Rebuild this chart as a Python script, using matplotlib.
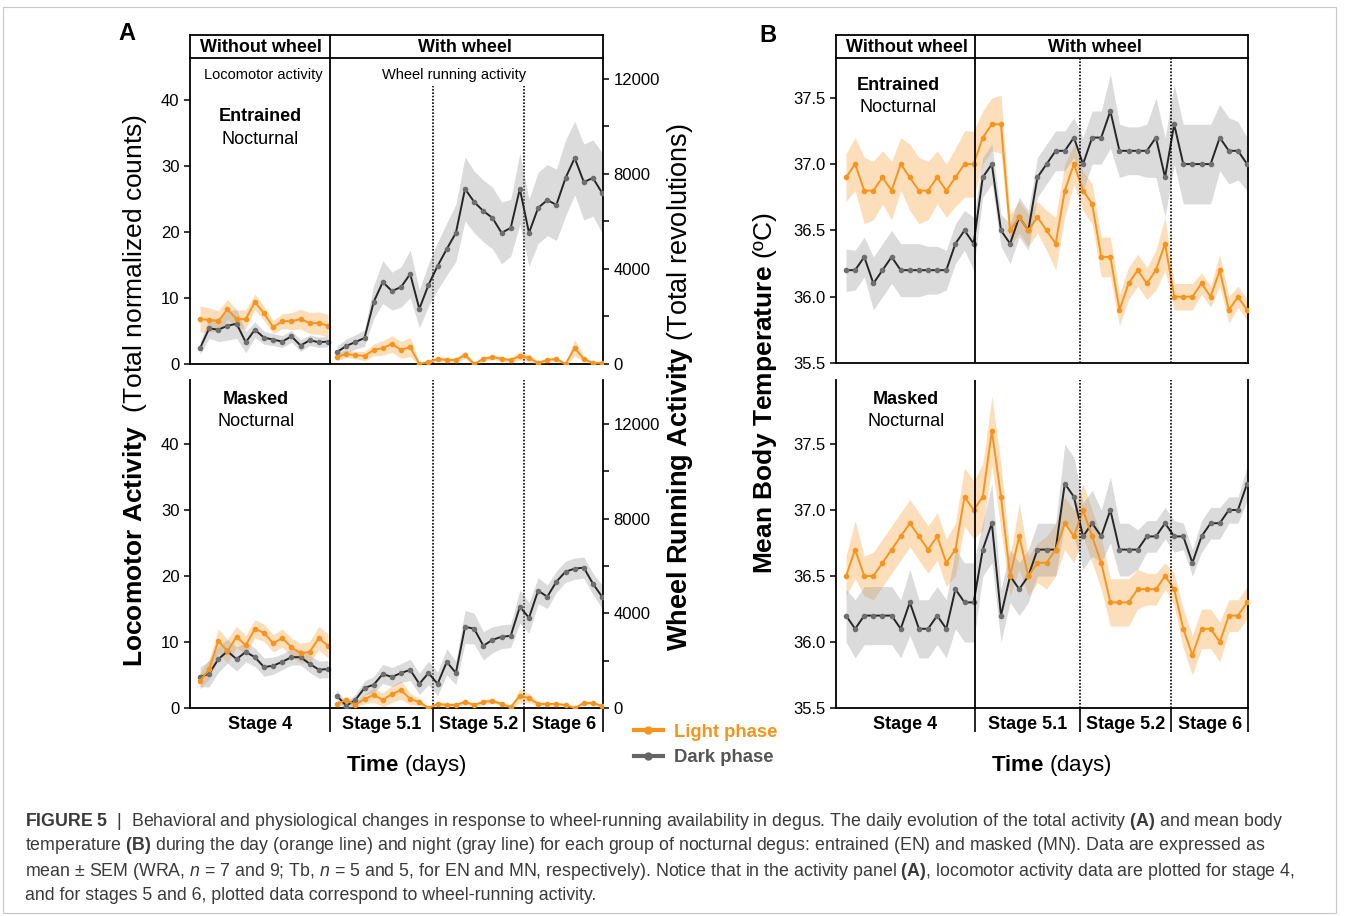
import numpy as np
import matplotlib
matplotlib.use("Agg")
import matplotlib.pyplot as plt
from matplotlib.lines import Line2D
from matplotlib.patches import Rectangle

plt.rcParams['font.family'] = ['Liberation Sans', 'DejaVu Sans']
plt.rcParams['mathtext.fontset'] = 'custom'
plt.rcParams['mathtext.rm'] = 'Liberation Sans'
plt.rcParams['mathtext.it'] = 'Liberation Sans:italic'
plt.rcParams['mathtext.bf'] = 'Liberation Sans:bold'

# ---------------- data ----------------
stage_labels = ["Stage 4", "Stage 5.1", "Stage 5.2", "Stage 6"]

# Panel A, Entrained: stage 4 locomotor (counts), stages 5-6 wheel revolutions
loc_light_EN = [6.8, 6.7, 6.5, 8.3, 6.8, 6.8, 9.4, 7.7, 5.6, 6.5, 6.5, 6.8, 6.2, 6.2, 5.8]
loc_light_EN_sem = [2.0, 1.8, 1.6, 1.5, 1.4, 1.4, 1.2, 1.1, 1.0, 1.1, 1.3, 1.5, 1.6, 1.7, 1.7]
loc_dark_EN = [2.4, 5.4, 5.2, 5.8, 6.1, 3.3, 5.2, 4.0, 3.7, 3.4, 4.2, 2.8, 3.6, 3.3, 3.4]
loc_dark_EN_sem = [1.0, 1.5, 1.8, 2.2, 2.2, 1.6, 1.2, 1.0, 0.9, 0.9, 0.9, 0.9, 0.8, 0.8, 0.8]
wheel_light_EN = [295, 421, 379, 337, 590, 674, 842, 590, 716, 0, 84, 210, 168, 168, 379,
                  0, 210, 295, 210, 168, 337, 253, 42, 168, 210, 0, 674, 210, 42, 42]
wheel_light_EN_sem = [150, 150, 150, 200, 250, 300, 350, 350, 400, 60, 80, 100, 100, 100, 150,
                      80, 100, 100, 100, 100, 180, 150, 80, 100, 100, 60, 350, 100, 60, 60]
wheel_dark_EN = [505, 758, 926, 1095, 2610, 3450, 3070, 3240, 3790, 2320, 3330, 4130, 4840, 5520, 7370,
                 6820, 6440, 6150, 5520, 5730, 7370, 5520, 6570, 6900, 6700, 7830, 8670, 7660, 7830, 7200]
wheel_dark_EN_sem = [250, 300, 300, 350, 700, 900, 800, 850, 1000, 800, 900, 1000, 1100, 1200, 1350,
                     1300, 1300, 1300, 1300, 1200, 1500, 1400, 1500, 1500, 1500, 1600, 1550, 1600, 1600, 1700]

# Panel A, Masked
loc_light_MN = [4.1, 5.9, 10.2, 8.6, 10.8, 9.5, 12.0, 11.4, 9.8, 10.6, 9.2, 8.3, 8.5, 10.6, 9.4]
loc_light_MN_sem = [1.2, 1.5, 1.8, 1.8, 1.6, 1.5, 1.4, 1.3, 1.3, 1.4, 1.4, 1.5, 1.6, 1.8, 1.8]
loc_dark_MN = [4.7, 5.2, 7.4, 8.6, 7.4, 8.5, 7.7, 6.2, 6.4, 7.0, 7.7, 7.7, 6.7, 5.8, 5.9]
loc_dark_MN_sem = [1.5, 2.0, 2.0, 1.8, 1.8, 1.5, 1.4, 1.4, 1.3, 1.2, 1.2, 1.2, 1.3, 1.3, 1.3]
wheel_light_MN = [170, 340, 130, 380, 550, 340, 590, 760, 380, 250, 0, 170, 130, 130, 250,
                  130, 250, 300, 170, 40, 510, 420, 170, 170, 170, 130, 0, 210, 210, 85]
wheel_light_MN_sem = [100, 150, 100, 200, 300, 300, 350, 400, 250, 150, 40, 80, 80, 80, 100,
                      80, 100, 100, 80, 60, 300, 200, 80, 80, 80, 60, 40, 80, 80, 60]
wheel_dark_MN = [510, 90, 340, 850, 980, 1440, 1310, 1480, 1610, 1020, 1480, 1020, 1950, 1480, 3430,
                 3350, 2630, 2880, 3010, 3050, 4280, 3810, 4960, 4700, 5340, 5760, 5890, 5930, 5250, 4700]
wheel_dark_MN_sem = [250, 150, 250, 300, 350, 400, 400, 400, 450, 450, 500, 500, 550, 500, 700,
                     650, 600, 550, 500, 500, 700, 650, 550, 500, 450, 450, 450, 450, 450, 500]

# Panel B, body temperature (ºC)
tb_light_EN = [36.9, 37.0, 36.8, 36.8, 36.9, 36.8, 37.0, 36.9, 36.8, 36.8, 36.9, 36.8, 36.9, 37.0, 37.0,
               37.2, 37.3, 37.3, 36.5, 36.6, 36.5, 36.6, 36.5, 36.4, 36.8, 37.0, 36.8, 36.7, 36.3, 36.3,
               35.9, 36.1, 36.2, 36.1, 36.2, 36.4, 36.0, 36.0, 36.0, 36.1, 36.0, 36.2, 35.9, 36.0, 35.9]
tb_light_EN_sem = [0.18, 0.2, 0.25, 0.22, 0.2, 0.22, 0.2, 0.25, 0.25, 0.22, 0.2, 0.2, 0.22, 0.25, 0.25,
                   0.2, 0.2, 0.22, 0.12, 0.12, 0.12, 0.12, 0.15, 0.2, 0.2, 0.15, 0.15, 0.15, 0.15, 0.15,
                   0.12, 0.12, 0.12, 0.12, 0.15, 0.2, 0.1, 0.1, 0.1, 0.08, 0.08, 0.12, 0.1, 0.08, 0.08]
tb_dark_EN = [36.2, 36.2, 36.3, 36.1, 36.2, 36.3, 36.2, 36.2, 36.2, 36.2, 36.2, 36.2, 36.4, 36.5, 36.4,
              36.9, 37.0, 36.5, 36.4, 36.6, 36.5, 36.9, 37.0, 37.1, 37.1, 37.2, 37.0, 37.2, 37.2, 37.4,
              37.1, 37.1, 37.1, 37.1, 37.2, 36.9, 37.3, 37.0, 37.0, 37.0, 37.0, 37.2, 37.1, 37.1, 37.0]
tb_dark_EN_sem = [0.16, 0.15, 0.15, 0.2, 0.2, 0.2, 0.2, 0.2, 0.2, 0.18, 0.18, 0.15, 0.15, 0.15, 0.2,
                  0.15, 0.15, 0.12, 0.15, 0.15, 0.15, 0.15, 0.15, 0.15, 0.15, 0.15, 0.2, 0.2, 0.2, 0.28,
                  0.2, 0.18, 0.18, 0.2, 0.3, 0.3, 0.3, 0.3, 0.3, 0.3, 0.3, 0.25, 0.25, 0.22, 0.2]
tb_light_MN = [36.5, 36.7, 36.5, 36.5, 36.6, 36.7, 36.8, 36.9, 36.8, 36.7, 36.8, 36.6, 36.7, 37.1, 37.0,
               37.1, 37.6, 37.1, 36.5, 36.8, 36.5, 36.6, 36.6, 36.7, 36.9, 36.8, 37.0, 36.8, 36.6, 36.3,
               36.3, 36.3, 36.4, 36.4, 36.4, 36.5, 36.4, 36.1, 35.9, 36.1, 36.1, 36.0, 36.2, 36.2, 36.3]
tb_light_MN_sem = [0.15, 0.22, 0.15, 0.18, 0.18, 0.18, 0.18, 0.18, 0.18, 0.18, 0.18, 0.18, 0.2, 0.22, 0.22,
                   0.25, 0.26, 0.25, 0.15, 0.25, 0.15, 0.15, 0.2, 0.2, 0.2, 0.2, 0.2, 0.2, 0.2, 0.18,
                   0.18, 0.18, 0.15, 0.12, 0.12, 0.1, 0.12, 0.15, 0.15, 0.15, 0.15, 0.15, 0.12, 0.12, 0.12]
tb_dark_MN = [36.2, 36.1, 36.2, 36.2, 36.2, 36.2, 36.1, 36.3, 36.1, 36.1, 36.2, 36.1, 36.4, 36.3, 36.3,
              36.7, 36.9, 36.2, 36.5, 36.4, 36.5, 36.7, 36.7, 36.7, 37.2, 37.1, 36.8, 36.9, 36.8, 37.0,
              36.7, 36.7, 36.7, 36.8, 36.8, 36.9, 36.8, 36.8, 36.6, 36.8, 36.9, 36.9, 37.0, 37.0, 37.2]
tb_dark_MN_sem = [0.2, 0.22, 0.22, 0.22, 0.22, 0.22, 0.22, 0.25, 0.22, 0.22, 0.22, 0.22, 0.3, 0.3, 0.3,
                  0.2, 0.3, 0.2, 0.2, 0.2, 0.2, 0.2, 0.2, 0.2, 0.3, 0.3, 0.25, 0.25, 0.2, 0.25,
                  0.2, 0.2, 0.15, 0.12, 0.12, 0.12, 0.12, 0.1, 0.1, 0.12, 0.12, 0.12, 0.1, 0.1, 0.13]

# ---------------- style ----------------
ORANGE = '#F7941D'
DARK = '#262626'
DARKM = '#6e6e6e'
W, H = 1354, 916
fig = plt.figure(figsize=(W / 100, H / 100), dpi=100)

days = np.arange(45)
d4 = days[:15]
dw = days[15:]
XLIM = (-1.1, 44.1)


def pax(x0, y0, x1, y1):
    return fig.add_axes([x0 / W, 1 - y1 / H, (x1 - x0) / W, (y1 - y0) / H])


def ftext(x, y, s, **kw):
    return fig.text(x / W, 1 - y / H, s, **kw)


def draw_series(ax, x, light, lsem, dark, dsem):
    light = np.array(light); lsem = np.array(lsem)
    dark = np.array(dark); dsem = np.array(dsem)
    ax.fill_between(x, light - lsem, light + lsem, color=ORANGE, alpha=0.3, lw=0)
    ax.fill_between(x, dark - dsem, dark + dsem, color='#9a9a9a', alpha=0.35, lw=0)
    ax.plot(x, dark, color=DARK, lw=1.4, marker='o', ms=3.0, mfc=DARKM, mec=DARKM, zorder=4)
    ax.plot(x, light, color=ORANGE, lw=1.4, marker='o', ms=3.0, mfc=ORANGE, mec=ORANGE, zorder=5)


def style_spines(ax, lw=1.3):
    for s in ax.spines.values():
        s.set_linewidth(lw)
    ax.spines['top'].set_visible(False)
    ax.tick_params(axis='both', labelsize=12, width=1.1, length=4, direction='out')


def header(x0, x1, xdiv):
    hx = pax(x0, 35, x1, 58)
    hx.set_xlim(*XLIM)
    hx.set_ylim(0, 1)
    hx.set_xticks([]); hx.set_yticks([])
    for s in hx.spines.values():
        s.set_linewidth(1.3)
    hx.axvline(xdiv, color='black', lw=1.3)
    return hx


def bottom_xaxis(ax, bounds):
    ax.set_xticks(bounds[1:])
    ax.set_xticklabels([])
    ax.tick_params(axis='x', which='major', length=17, width=1.2)
    edges = [XLIM[0]] + list(bounds[1:])
    centers = [(edges[i] + edges[i + 1]) / 2 for i in range(4)]
    ax.set_xticks(centers, minor=True)
    ax.set_xticklabels(stage_labels, minor=True, fontsize=13, fontweight='bold')
    ax.tick_params(axis='x', which='minor', length=0, pad=6)


# ---------------- Panel A ----------------
boundsA = [XLIM[0], 14.2, 25.5, 35.5]
for row, (y0, y1, top4, topw, l4, l4s, d4v, d4s, lw_, lws, dw_, dws) in enumerate([
        (58, 364, 46.4, 12880, loc_light_EN, loc_light_EN_sem, loc_dark_EN, loc_dark_EN_sem,
         wheel_light_EN, wheel_light_EN_sem, wheel_dark_EN, wheel_dark_EN_sem),
        (380, 708, 49.7, 13860, loc_light_MN, loc_light_MN_sem, loc_dark_MN, loc_dark_MN_sem,
         wheel_light_MN, wheel_light_MN_sem, wheel_dark_MN, wheel_dark_MN_sem)]):
    ax = pax(190, y0, 603, y1)
    ax2 = ax.twinx()
    ax.set_xlim(*XLIM)
    ax.set_ylim(0, top4)
    ax2.set_ylim(0, topw)
    style_spines(ax)
    style_spines(ax2)
    ax.spines['right'].set_visible(False)
    ax2.spines['left'].set_visible(False)
    ax2.spines['bottom'].set_visible(False)
    ax.set_yticks([0, 10, 20, 30, 40])
    ax2.set_yticks([0, 4000, 8000, 12000])
    ax2.set_yticks([2000, 6000, 10000], minor=True)
    ax2.tick_params(axis='y', which='minor', length=4, width=1.1)
    draw_series(ax, d4, l4, l4s, d4v, d4s)
    draw_series(ax2, dw, lw_, lws, dw_, dws)
    ax.axvline(boundsA[1], color='black', lw=1.3, zorder=6)
    ytop = 0.91 if row == 0 else 1.0
    for xv in boundsA[2:]:
        ax.plot([xv, xv], [0, ytop], transform=ax.get_xaxis_transform(), color='black',
                lw=1.2, ls=(0, (1, 1)), zorder=6)
    if row == 0:
        ax.set_xticks([])
    else:
        bottom_xaxis(ax, boundsA + [44.1])

header(190, 603, boundsA[1])
ftext(261, 47, 'Without wheel', ha='center', va='center', fontsize=13, fontweight='bold')
ftext(465, 47, 'With wheel', ha='center', va='center', fontsize=13, fontweight='bold')
ftext(263, 75, 'Locomotor activity', ha='center', va='center', fontsize=10.5)
ftext(454, 75, 'Wheel running activity', ha='center', va='center', fontsize=10.5)
ftext(260, 117, 'Entrained', ha='center', va='center', fontsize=13, fontweight='bold')
ftext(260, 139, 'Nocturnal', ha='center', va='center', fontsize=13)
ftext(256, 400, 'Masked', ha='center', va='center', fontsize=13, fontweight='bold')
ftext(256, 422, 'Nocturnal', ha='center', va='center', fontsize=13)

ftext(135, 390, r'$\mathbf{Locomotor\ Activity}$  (Total normalized counts)', rotation=90,
      ha='center', va='center', fontsize=19)
ftext(680, 387, r'$\mathbf{Wheel\ Running\ Activity}$ (Total revolutions)', rotation=90,
      ha='center', va='center', fontsize=19.5)
ftext(406, 765, r'$\mathbf{Time}$ (days)', ha='center', va='center', fontsize=16)
ftext(127, 33, 'A', ha='center', va='center', fontsize=17, fontweight='bold')

# ---------------- Panel B ----------------
boundsB = [XLIM[0], 14.15, 25.7, 35.7]
for row, (y0, y1, ytop, lt, lts, dk, dks) in enumerate([
        (58, 363, 37.8, tb_light_EN, tb_light_EN_sem, tb_dark_EN, tb_dark_EN_sem),
        (380, 708, 37.985, tb_light_MN, tb_light_MN_sem, tb_dark_MN, tb_dark_MN_sem)]):
    ax = pax(836, y0, 1248, y1)
    ax.set_xlim(*XLIM)
    ax.set_ylim(35.5, ytop)
    style_spines(ax)
    ax.tick_params(axis='y', which='both', right=False)
    ax.set_yticks([35.5, 36.0, 36.5, 37.0, 37.5])
    ax.set_yticklabels(['%.1f' % v for v in [35.5, 36.0, 36.5, 37.0, 37.5]])
    draw_series(ax, days, lt, lts, dk, dks)
    ax.axvline(boundsB[1], color='black', lw=1.3, zorder=6)
    for xv in boundsB[2:]:
        ax.axvline(xv, color='black', lw=1.2, ls=(0, (1, 1)), zorder=6)
    if row == 0:
        ax.set_xticks([])
    else:
        bottom_xaxis(ax, boundsB + [44.1])

header(836, 1248, boundsB[1])
ftext(907, 47, 'Without wheel', ha='center', va='center', fontsize=13, fontweight='bold')
ftext(1095, 47, 'With wheel', ha='center', va='center', fontsize=13, fontweight='bold')
ftext(898, 85, 'Entrained', ha='center', va='center', fontsize=13, fontweight='bold')
ftext(898, 107, 'Nocturnal', ha='center', va='center', fontsize=13)
ftext(906, 400, 'Masked', ha='center', va='center', fontsize=13, fontweight='bold')
ftext(906, 422, 'Nocturnal', ha='center', va='center', fontsize=13)
ftext(765, 393, r'$\mathbf{Mean\ Body\ Temperature}$ (ºC)', rotation=90,
      ha='center', va='center', fontsize=19)
ftext(1051, 765, r'$\mathbf{Time}$ (days)', ha='center', va='center', fontsize=16)
ftext(768, 35, 'B', ha='center', va='center', fontsize=17, fontweight='bold')

# ---------------- legend ----------------
handles = [Line2D([], [], color=ORANGE, lw=3, marker='o', ms=5, mfc=ORANGE, mec=ORANGE),
           Line2D([], [], color='#666666', lw=3, marker='o', ms=5, mfc='#666666', mec='#666666')]
leg = fig.legend(handles, ['Light phase', 'Dark phase'], loc='center left',
                 bbox_to_anchor=(617 / W, 1 - 745 / H), frameon=False, handlelength=1.6,
                 handletextpad=0.6, labelspacing=0.45, prop={'size': 13.3, 'weight': 'bold'})
leg.get_texts()[0].set_color(ORANGE)
leg.get_texts()[1].set_color('#555555')

# ---------------- caption ----------------
caption_lines = [
    r'$\mathbf{FIGURE\ 5}$  |  Behavioral and physiological changes in response to wheel-running availability in degus. The daily evolution of the total activity $\mathbf{(A)}$ and mean body',
    r'temperature $\mathbf{(B)}$ during the day (orange line) and night (gray line) for each group of nocturnal degus: entrained (EN) and masked (MN). Data are expressed as',
    r'mean ± SEM (WRA, $n$ = 7 and 9; Tb, $n$ = 5 and 5, for EN and MN, respectively). Notice that in the activity panel $\mathbf{(A)}$, locomotor activity data are plotted for stage 4,',
    'and for stages 5 and 6, plotted data correspond to wheel-running activity.',
]
for i, line in enumerate(caption_lines):
    ftext(25, 821 + 25 * i, line, ha='left', va='center', fontsize=12.8, color='#3a3a3a')

fig.patches.append(Rectangle((3 / W, 1 - 913 / H), 1333 / W, 906 / H, transform=fig.transFigure,
                             fill=False, edgecolor='#c8c8c8', lw=0.8))

fig.savefig('out.png', dpi=100)
